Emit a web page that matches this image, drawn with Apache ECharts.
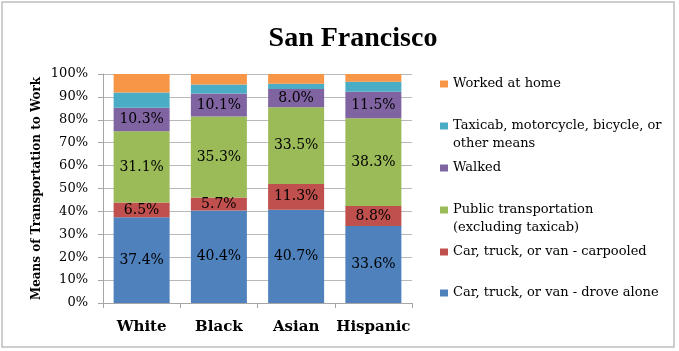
<!DOCTYPE html>
<html>
<head>
<meta charset="utf-8">
<script src="https://cdn.jsdelivr.net/npm/echarts@6/dist/echarts.min.js"></script>
<style>
  html, body { margin: 0; padding: 0; background: #fff; }
  #chart { width: 679px; height: 351px; }
</style>
</head>
<body>
<div id="chart"></div>
<script>
var groups = ['White', 'Black', 'Asian', 'Hispanic'];
var seriesNames = [
    'Car, truck, or van - drove alone',
    'Car, truck, or van - carpooled',
    'Public transportation (excluding taxicab)',
    'Walked',
    'Taxicab, motorcycle, bicycle, or other means',
    'Worked at home'
];
var legendLabels = [
    'Car, truck, or van - drove alone',
    'Car, truck, or van - carpooled',
    'Public transportation\n(excluding taxicab)',
    'Walked',
    'Taxicab, motorcycle, bicycle, or\nother means',
    'Worked at home'
];
var droveAlone = [37.4, 40.4, 40.7, 33.6];
var carpooled = [6.5, 5.7, 11.3, 8.8];
var publicTrans = [31.1, 35.3, 33.5, 38.3];
var walked = [10.3, 10.1, 8.0, 11.5];
var taxiOther = [6.6, 3.9, 2.2, 4.4];
var atHome = [8.1, 4.6, 4.3, 3.4];
var yTicks = [0, 10, 20, 30, 40, 50, 60, 70, 80, 90, 100];

var colors = ['#4f81bd', '#c0504d', '#9bbb59', '#8064a2', '#4bacc6', '#f79646'];
var values = [droveAlone, carpooled, publicTrans, walked, taxiOther, atHome];

var myChart = echarts.init(document.getElementById('chart'));

var series = [];
for (var i = 0; i < values.length; i++) {
    series.push({
        name: seriesNames[i],
        type: 'bar',
        stack: 'total',
        barCategoryGap: '27.5%',
        itemStyle: { color: colors[i] },
        label: {
            show: i < 4,
            position: 'inside',
            color: '#000',
            fontFamily: 'DejaVu Serif',
            fontSize: 14,
            formatter: function (p) { return p.value.toFixed(1) + '%'; }
        },
        data: values[i]
    });
}

// one legend per entry, top-most entry is the last series
// two-line labels get an empty first line so the icon sits beside line one
var legendCenters = [293, 252, 210, 168, 126, 84];
var legends = [];
for (var j = 0; j < seriesNames.length; j++) {
    var twoLines = legendLabels[j].indexOf('\n') >= 0;
    legends.push({
        data: [seriesNames[j]],
        left: 440,
        top: twoLines ? legendCenters[j] - 27 : legendCenters[j] - 9,
        itemWidth: 8,
        itemHeight: 7,
        icon: 'rect',
        selectedMode: false,
        padding: 0,
        formatter: (function (lbl) { return function () { return lbl; }; })(twoLines ? ' \n' + legendLabels[j] : legendLabels[j]),
        textStyle: {
            fontFamily: 'DejaVu Serif',
            fontSize: 13,
            color: '#000',
            lineHeight: 18
        }
    });
}

var option = {
    animation: false,
    title: {
        text: 'San Francisco',
        left: 348,
        textAlign: 'center',
        top: 20,
        textStyle: {
            fontFamily: 'Liberation Serif',
            fontWeight: 'bold',
            fontSize: 28,
            color: '#000'
        }
    },
    legend: legends,
    grid: {
        left: 103,
        top: 74,
        width: 309,
        height: 229
    },
    xAxis: {
        type: 'category',
        data: groups,
        axisLine: { lineStyle: { color: '#a6a6a6', width: 1 } },
        axisTick: { show: true, length: 5, lineStyle: { color: '#a6a6a6' } },
        axisLabel: {
            interval: 0,
            margin: 17,
            color: '#000',
            fontFamily: 'DejaVu Serif',
            fontWeight: 'bold',
            fontSize: 15
        }
    },
    yAxis: {
        type: 'value',
        min: 0,
        max: 100,
        interval: 10,
        name: 'Means of Transportation to Work',
        nameLocation: 'middle',
        nameGap: 60,
        nameTextStyle: {
            fontFamily: 'DejaVu Serif',
            fontWeight: 'bold',
            fontSize: 12,
            color: '#000'
        },
        axisLine: { show: true, lineStyle: { color: '#a6a6a6', width: 1 } },
        axisTick: { show: true, length: 5, lineStyle: { color: '#a6a6a6' } },
        splitLine: { lineStyle: { color: '#b8b8b8', width: 1 } },
        axisLabel: {
            margin: 15,
            color: '#000',
            fontFamily: 'DejaVu Serif',
            fontSize: 13,
            customValues: yTicks,
            formatter: function (v) { return v + '%'; }
        }
    },
    graphic: [{
        type: 'rect',
        shape: { x: 2, y: 2, width: 672, height: 345 },
        style: { fill: null, stroke: '#bfbfbf', lineWidth: 1.5 },
        silent: true
    }],
    series: series
};

myChart.setOption(option);
</script>
</body>
</html>
